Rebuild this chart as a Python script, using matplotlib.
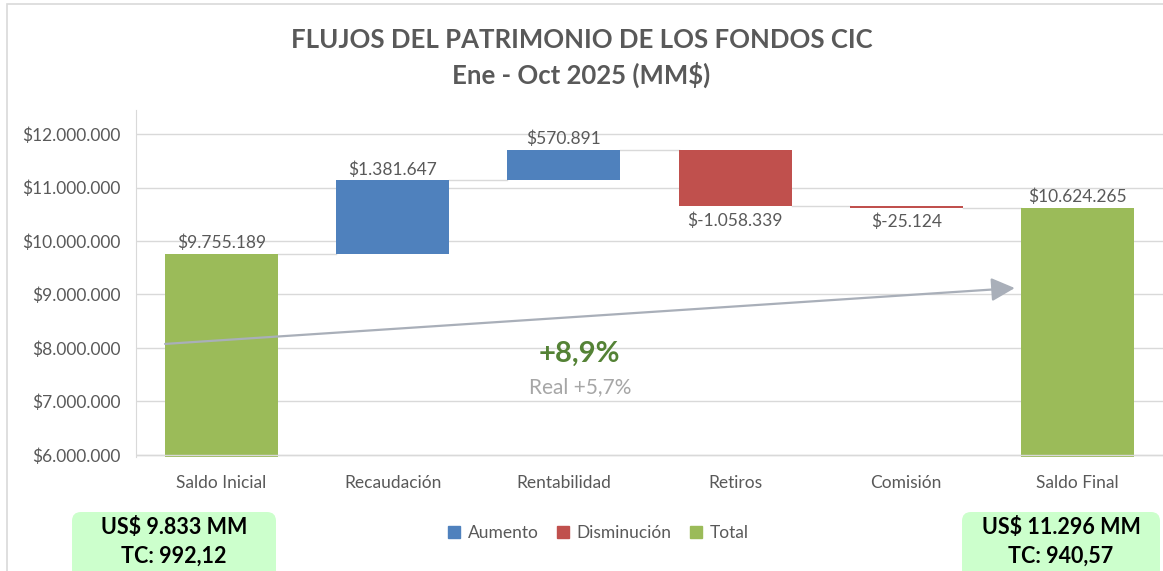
import matplotlib
matplotlib.use("Agg")
import matplotlib.pyplot as plt
from matplotlib.patches import FancyBboxPatch, Rectangle
from matplotlib.lines import Line2D
from matplotlib.transforms import IdentityTransform
import numpy as np

plt.rcParams['font.family'] = ['Lato', 'DejaVu Sans']

categories = ["Saldo Inicial", "Recaudación", "Rentabilidad", "Retiros", "Comisión", "Saldo Final"]
values = [9755189, 1381647, 570891, -1058339, -25124, 10624265]
kinds = ["total", "delta", "delta", "delta", "delta", "total"]

title_lines = ["FLUJOS DEL PATRIMONIO DE LOS FONDOS CIC", "Ene - Oct 2025 (MM$)"]
growth_text = "+8,9%"
real_text = "Real +5,7%"
usd_left = ["US$ 9.833 MM", "TC: 992,12"]
usd_right = ["US$ 11.296 MM", "TC: 940,57"]

c_up = "#4F81BD"
c_down = "#C0504D"
c_total = "#9BBB59"
c_text = "#595959"
c_grid = "#D9D9D9"


def fmt(v):
    s = "{:,}".format(abs(int(v))).replace(",", ".")
    return "$-" + s if v < 0 else "$" + s


fig = plt.figure(figsize=(11.63, 5.71), dpi=100)
ax = fig.add_axes([136 / 1163, 114 / 571, 1027 / 1163, 347 / 571])
ymin, ymax = 5.96e6, 12.45e6
ax.set_ylim(ymin, ymax)
ax.set_xlim(-0.5, 5.5)

w = 0.66
run = 0
tops = []
for i, (v, k) in enumerate(zip(values, kinds)):
    if k == "total":
        run = v
        end = v
        ax.bar(i, v - ymin, bottom=ymin, width=w, color=c_total, zorder=3)
        ax.text(i, v + 0.05e6, fmt(v), ha="center", va="bottom", fontsize=12.5, color=c_text)
    else:
        start = run
        end = run + v
        col = c_up if v > 0 else c_down
        ax.bar(i, v, bottom=start, width=w, color=col, zorder=3)
        if v > 0:
            ax.text(i, end + 0.05e6, fmt(v), ha="center", va="bottom", fontsize=12.5, color=c_text)
        else:
            ax.text(i, end - 0.11e6, fmt(v), ha="center", va="top", fontsize=12.5, color=c_text)
        run = end
    tops.append(end)

# connector lines between bars
for i in range(len(values) - 1):
    ax.plot([i + w / 2, i + 1 - w / 2], [tops[i], tops[i]], color=c_grid, lw=1, zorder=2)

yt = np.arange(6e6, 12.01e6, 1e6)
ax.set_yticks(yt)
ax.set_yticklabels([fmt(t) for t in yt])
ax.set_xticks(range(len(categories)))
ax.set_xticklabels(categories)
ax.tick_params(axis="y", length=0, pad=11, labelsize=12.5, labelcolor=c_text)
ax.tick_params(axis="x", length=0, pad=13, labelsize=12.5, labelcolor=c_text)
ax.grid(axis="y", color=c_grid, lw=1, zorder=0)
ax.axhline(6e6, color=c_grid, lw=1, zorder=4)
for s in ["top", "right", "bottom"]:
    ax.spines[s].set_visible(False)
ax.spines["left"].set_color(c_grid)

# growth arrow
ax.annotate("", xy=(4.634, 9.12e6), xytext=(-0.33, 8.075e6),
            arrowprops=dict(arrowstyle="-|>,head_length=0.6,head_width=0.3", mutation_scale=24,
                            color="#A9AFB9", lw=1.6, shrinkA=0, shrinkB=0), zorder=5)
ax.text(2.093, 7.89e6, growth_text, ha="center", va="center", fontsize=21,
        fontweight="bold", color="#548235", zorder=6)
ax.text(2.093, 7.27e6, real_text, ha="center", va="center", fontsize=15,
        color="#A6A6A6", zorder=6)

fig.text(0.5, 1 - 40 / 571, title_lines[0], ha="center", va="center",
         fontsize=18.5, fontweight="bold", color=c_text)
fig.text(0.5, 1 - 75 / 571, title_lines[1], ha="center", va="center",
         fontsize=18.5, fontweight="bold", color=c_text)

# chart frame
fig.patches.append(Rectangle((7, -10), 1200, 571 - 4 + 10, transform=IdentityTransform(),
                             fill=False, edgecolor=c_grid, lw=1.2))

handles = [Line2D([], [], marker="s", ls="", markersize=9, color=c) for c in (c_up, c_down, c_total)]
fig.legend(handles, ["Aumento", "Disminución", "Total"], loc="center",
           bbox_to_anchor=(596 / 1163, 38 / 571), ncol=3, frameon=False,
           fontsize=12.5, labelcolor=c_text, handletextpad=0.2, columnspacing=0.8,
           handlelength=1.2)

for x0, x1, lines in [(72, 276, usd_left), (962, 1160, usd_right)]:
    fig.patches.append(FancyBboxPatch((x0, -12), x1 - x0, 71, transform=IdentityTransform(),
                                      boxstyle="round,pad=0,rounding_size=9",
                                      facecolor="#CCFFCC", edgecolor="none"))
    fig.text((x0 + x1) / 2 / 1163, 44 / 571, lines[0], ha="center", va="center",
             fontsize=15.5, fontweight="bold", color="black")
    fig.text((x0 + x1) / 2 / 1163, 15 / 571, lines[1], ha="center", va="center",
             fontsize=15.5, fontweight="bold", color="black")

fig.savefig("out.png", dpi=100)
